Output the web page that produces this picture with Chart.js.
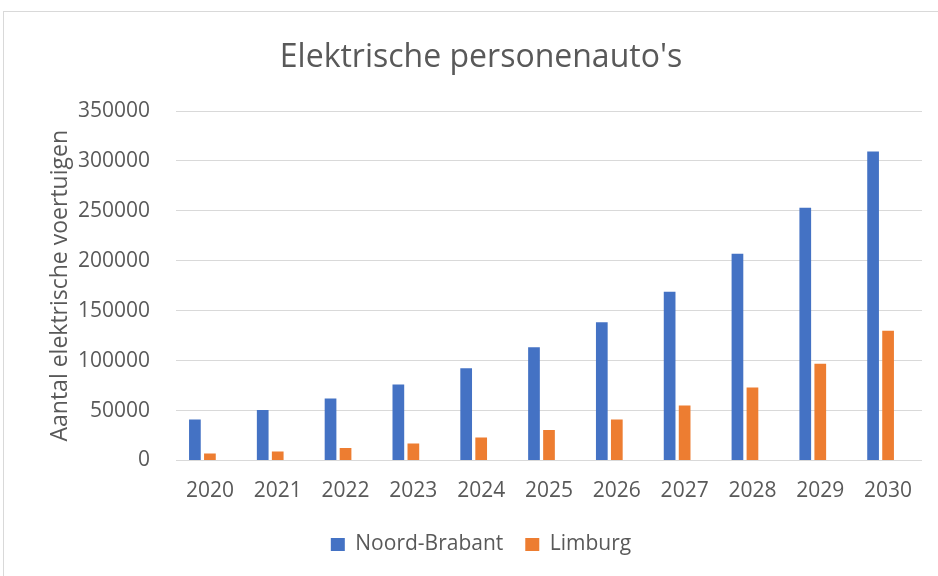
<!DOCTYPE html>
<html>
<head>
<meta charset="utf-8">
<script src="https://cdn.jsdelivr.net/npm/chart.js@4/dist/chart.umd.min.js"></script>
<style>
  html, body { margin: 0; padding: 0; background: #ffffff; overflow: hidden; }
  #wrap { position: relative; width: 938px; height: 576px; }
  #frame { position: absolute; left: 3px; top: 11px; width: 1000px; height: 700px; border: 1px solid #D9D9D9; box-sizing: border-box; }
  canvas { position: absolute; left: 0; top: 0; }
</style>
</head>
<body>
<div id="wrap">
  <div id="frame"></div>
  <canvas id="c" width="938" height="576"></canvas>
</div>
<script>
const categories = ['2020', '2021', '2022', '2023', '2024', '2025', '2026', '2027', '2028', '2029', '2030'];
const noordBrabant = [41000, 50500, 62000, 76000, 92500, 113500, 138500, 169000, 207000, 253000, 309500];
const limburg = [7000, 9000, 12500, 17000, 23000, 30500, 41000, 55000, 73000, 97000, 130000];
const emptySeries = [null, null, null, null, null, null, null, null, null, null, null];
const seriesNames = ['Noord-Brabant', 'Limburg'];
const chartTitle = "Elektrische personenauto's";
const yAxisTitle = 'Aantal elektrische voertuigen';

const textColor = '#595959';
const fontFamily = "'Open Sans', 'Noto Sans', sans-serif";

new Chart(document.getElementById('c'), {
  type: 'bar',
  data: {
    labels: categories,
    datasets: [
      { label: seriesNames[0], data: noordBrabant, backgroundColor: '#4472C4', categoryPercentage: 0.664, barPercentage: 0.78 },
      { label: seriesNames[1], data: limburg, backgroundColor: '#ED7D31', categoryPercentage: 0.664, barPercentage: 0.78 },
      { label: '', data: emptySeries, backgroundColor: 'rgba(0,0,0,0)', categoryPercentage: 0.664, barPercentage: 0.78 }
    ]
  },
  options: {
    responsive: false,
    animation: false,
    devicePixelRatio: 1,
    layout: { padding: { left: 40, right: 16, top: 11, bottom: 11 } },
    plugins: {
      title: {
        display: true,
        text: chartTitle,
        color: textColor,
        font: { family: fontFamily, size: 32, weight: 'normal' },
        padding: { top: 28, bottom: 33.6 }
      },
      legend: {
        position: 'bottom',
        labels: {
          color: textColor,
          font: { family: fontFamily, size: 21 },
          boxWidth: 14,
          boxHeight: 13,
          padding: 22,
          filter: (item) => item.text !== ''
        }
      },
      tooltip: { enabled: false }
    },
    scales: {
      x: {
        grid: { display: false, drawTicks: false },
        border: { display: false },
        ticks: { color: textColor, font: { family: fontFamily, size: 21 }, padding: 18, maxRotation: 0 },
        afterFit: (s) => { s.height = 51.5; }
      },
      y: {
        min: 0,
        max: 350000,
        ticks: {
          stepSize: 50000,
          color: textColor,
          font: { family: fontFamily, size: 21 },
          padding: 26,
          callback: (v) => String(v)
        },
        grid: { color: '#D9D9D9', lineWidth: 1, drawTicks: false },
        border: { display: false },
        title: {
          display: true,
          text: yAxisTitle,
          color: textColor,
          font: { family: fontFamily, size: 23 },
          padding: { top: 6.2, bottom: 0 }
        },
        afterFit: (s) => { s.width = 136; }
      }
    }
  }
});
</script>
</body>
</html>
